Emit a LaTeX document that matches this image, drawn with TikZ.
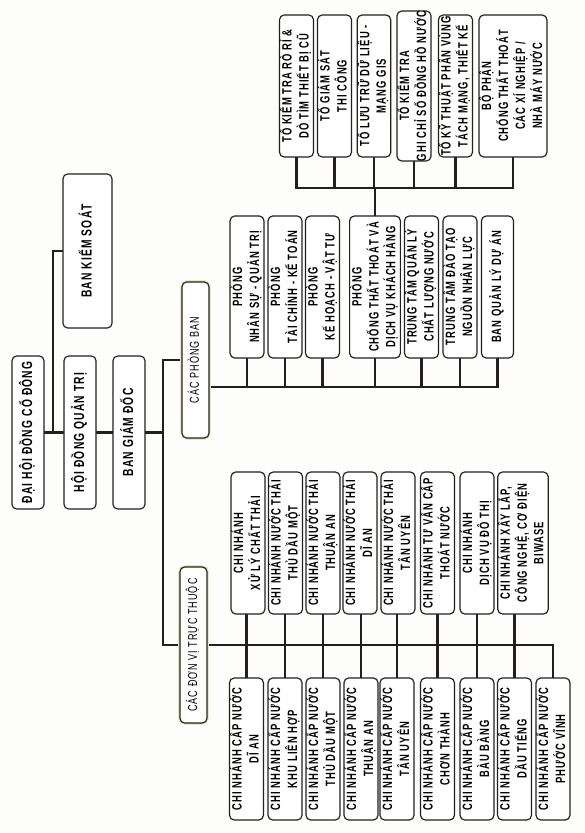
\documentclass[tikz,border=0pt]{standalone}
\usepackage{fontspec}
\setmainfont{Liberation Sans}[FakeStretch=0.7, LetterSpace=8]
\usepackage{tikz}
\usetikzlibrary{positioning, calc, backgrounds}
\usepackage{graphicx}
\definecolor{inkdark}{RGB}{35, 31, 32}
\definecolor{paper}{RGB}{253, 253, 251}
\definecolor{glowyellow}{RGB}{230, 234, 185}

% chữ dựng đứng trong ô
\newcommand{\vtext}[1]{\rotatebox{90}{\begin{tabular}{@{}c@{}}#1\end{tabular}}}

\tikzset{
  unitbox/.style={draw=inkdark, line width=1pt, rounded corners=4pt, fill=white,
    inner sep=0pt, minimum width=0.96cm, minimum height=4.26cm,
    font=\bfseries\fontsize{11.5}{14}\selectfont},
  headbox/.style={unitbox, minimum height=4.59cm,
    font=\bfseries\fontsize{12.5}{14}\selectfont},
  groupbox/.style={unitbox, minimum width=0.81cm, minimum height=4.68cm,
    font=\fontsize{11}{12}\selectfont, preaction={draw=glowyellow, line width=3pt}},
  link/.style={draw=inkdark, line width=2.5pt, line cap=rect},
}

\begin{document}
\begin{tikzpicture}[x=0.03cm, y=-0.03cm]

  \useasboundingbox (0,0) rectangle (585,833);

  % cấp lãnh đạo
  \node[headbox] (dhdcd) at (28,432.5) {\vtext{ĐẠI HỘI ĐỒNG CỔ ĐÔNG}};
  \node[headbox] (hdqt) at (80,432.5) {\vtext{HỘI ĐỒNG QUẢN TRỊ}};
  \node[headbox] (bgd) at (129,432.5) {\vtext{BAN GIÁM ĐỐC}};
  \node[headbox, minimum width=1.47cm, minimum height=4.62cm] (bks) at (87.5,251) {\vtext{BAN KIỂM SOÁT}};

  % hai khối
  \node[groupbox] (cpb) at (195.5,360) {\vtext{CÁC PHÒNG BAN}};
  \node[groupbox] (cdv) at (193.5,645) {\vtext{CÁC ĐƠN VỊ TRỰC THUỘC}};

  % các phòng ban
  \node[unitbox] (pb1) at (247,287) {\vtext{PHÒNG\\NHÂN SỰ - QUẢN TRỊ}};
  \node[unitbox] (pb2) at (285,287) {\vtext{PHÒNG\\TÀI CHÍNH - KẾ TOÁN}};
  \node[unitbox] (pb3) at (322.5,287) {\vtext{PHÒNG\\KẾ HOẠCH - VẬT TƯ}};
  \node[unitbox, minimum width=1.44cm] (pb4) at (375,287) {\vtext{PHÒNG\\CHỐNG THẤT THOÁT VÀ\\DỊCH VỤ KHÁCH HÀNG}};
  \node[unitbox] (pb5) at (421.5,287) {\vtext{TRUNG TÂM QUẢN LÝ\\CHẤT LƯỢNG NƯỚC}};
  \node[unitbox] (pb6) at (460,287) {\vtext{TRUNG TÂM ĐÀO TẠO\\NGUỒN NHÂN LỰC}};
  \node[unitbox] (pb7) at (497.5,287) {\vtext{BAN QUẢN LÝ DỰ ÁN}};

  % các tổ chống thất thoát
  \node[unitbox] (t1) at (296.5,86) {\vtext{TỔ KIỂM TRA RÒ RỈ \&\\DÒ TÌM THIẾT BỊ CŨ}};
  \node[unitbox] (t2) at (334.5,86) {\vtext{TỔ GIÁM SÁT\\THI CÔNG}};
  \node[unitbox] (t3) at (374,86) {\vtext{TỔ LƯU TRỮ DỮ LIỆU -\\MẠNG GIS}};
  \node[unitbox] (t4) at (414,86) {\vtext{TỔ KIỂM TRA\\GHI CHỈ SỐ ĐỒNG HỒ NƯỚC}};
  \node[unitbox] (t5) at (455.5,86) {\vtext{TỔ KỸ THUẬT PHÂN VÙNG\\TÁCH MẠNG, THIẾT KẾ}};
  \node[unitbox, minimum width=1.98cm] (t6) at (513,86) {\vtext{BỘ PHẬN\\CHỐNG THẤT THOÁT\\CÁC XÍ NGHIỆP /\\NHÀ MÁY NƯỚC}};

  % đơn vị trực thuộc, hàng trên
  \node[unitbox] (u1) at (248,543) {\vtext{CHI NHÁNH\\XỬ LÝ CHẤT THẢI}};
  \node[unitbox] (u2) at (285.5,543) {\vtext{CHI NHÁNH NƯỚC THẢI\\THỦ DẦU MỘT}};
  \node[unitbox] (u3) at (323,543) {\vtext{CHI NHÁNH NƯỚC THẢI\\THUẬN AN}};
  \node[unitbox] (u4) at (360,543) {\vtext{CHI NHÁNH NƯỚC THẢI\\DĨ AN}};
  \node[unitbox] (u5) at (398,543) {\vtext{CHI NHÁNH NƯỚC THẢI\\TÂN UYÊN}};
  \node[unitbox] (u6) at (437.5,543) {\vtext{CHI NHÁNH TƯ VẤN CẤP\\THOÁT NƯỚC}};
  \node[unitbox] (u7) at (477,543) {\vtext{CHI NHÁNH\\DỊCH VỤ ĐÔ THỊ}};
  \node[unitbox, minimum width=1.5cm] (u8) at (523,543) {\vtext{CHI NHÁNH XÂY LẮP,\\CÔNG NGHỆ, CƠ ĐIỆN\\BIWASE}};

  % đơn vị trực thuộc, hàng dưới
  \node[unitbox] (l1) at (246.5,749) {\vtext{CHI NHÁNH CẤP NƯỚC\\DĨ AN}};
  \node[unitbox] (l2) at (285,749) {\vtext{CHI NHÁNH CẤP NƯỚC\\KHU LIÊN HỢP}};
  \node[unitbox] (l3) at (323,749) {\vtext{CHI NHÁNH CẤP NƯỚC\\THỦ DẦU MỘT}};
  \node[unitbox] (l4) at (361,749) {\vtext{CHI NHÁNH CẤP NƯỚC\\THUẬN AN}};
  \node[unitbox] (l5) at (397,749) {\vtext{CHI NHÁNH CẤP NƯỚC\\TÂN UYÊN}};
  \node[unitbox] (l6) at (437.5,749) {\vtext{CHI NHÁNH CẤP NƯỚC\\CHƠN THÀNH}};
  \node[unitbox] (l7) at (477,749) {\vtext{CHI NHÁNH CẤP NƯỚC\\BÀU BÀNG}};
  \node[unitbox] (l8) at (514.5,749) {\vtext{CHI NHÁNH CẤP NƯỚC\\DẦU TIẾNG}};
  \node[unitbox] (l9) at (553,749) {\vtext{CHI NHÁNH CẤP NƯỚC\\PHƯỚC VĨNH}};

  \begin{scope}[on background layer]
    \fill[paper] (0,0) rectangle (585,833);

    % trục chính
    \coordinate (bksjoin) at (53,432.5);
    \coordinate (trunk) at (163,432.5);
    \draw[link] (dhdcd) -- (hdqt);
    \draw[link] (bksjoin) |- (bks);
    \draw[link] (hdqt) -- (bgd);
    \draw[link] (bgd) -- (trunk);
    \draw[link] (cpb) -| (trunk |- cdv) -- (cdv);

    % nhánh phòng ban
    \coordinate (pbbus) at (0,387);
    \draw[link] (cpb.east |- pbbus) -- (pb7.south |- pbbus);
    \foreach \i in {1,...,7}
      \draw[link] (pb\i.south) -- (pb\i.south |- pbbus);

    % nhánh các tổ
    \coordinate (tobus) at (0,188);
    \draw[link] (t1.south |- tobus) -- (t6.south |- tobus);
    \foreach \i in {1,...,6}
      \draw[link] (t\i.south) -- (t\i.south |- tobus);
    \draw[link] (pb4.north) -- (pb4.north |- tobus);

    % nhánh đơn vị trực thuộc
    \draw[link] (cdv.east) -- (l9.north |- cdv.east);
    \foreach \i in {1,...,8}
      \draw[link] (l\i.north) -- (l\i.north |- u\i.south);
    \draw[link] (l9.north) -- (l9.north |- cdv.east);
  \end{scope}

\end{tikzpicture}
\end{document}
